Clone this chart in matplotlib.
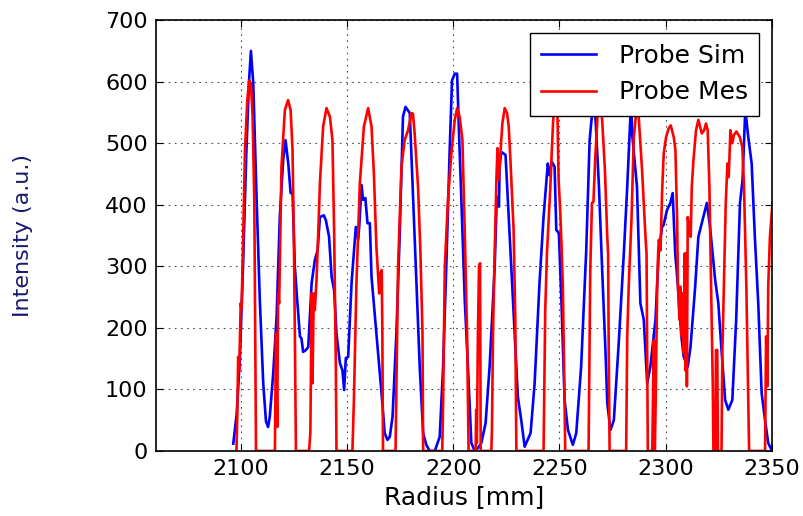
import matplotlib
matplotlib.use('Agg')
import matplotlib.pyplot as plt

# Probe Sim (blue)
sim_r = [2096.4, 2098.0, 2099.5, 2101.0, 2102.5, 2103.8, 2104.7, 2105.8, 2107.4, 2108.9,
         2110.5, 2111.8, 2112.8, 2113.6, 2115.2, 2116.8, 2118.3, 2119.9, 2121.0, 2122.3,
         2123.4, 2124.3, 2125.4, 2126.5, 2127.8, 2128.5, 2129.3, 2130.6, 2131.7, 2133.3,
         2134.8, 2136.1, 2137.2, 2139.0, 2140.0, 2141.5, 2142.7, 2143.9, 2145.0, 2146.6,
         2147.8, 2148.6, 2149.4, 2150.5, 2152.1, 2154.1, 2155.2, 2155.7, 2156.8, 2157.5,
         2158.6, 2159.6, 2160.7, 2161.5, 2163.8, 2166.2, 2167.7, 2169.0, 2170.1, 2171.4,
         2173.2, 2174.8, 2176.3, 2177.5, 2179.5, 2181.1, 2182.6, 2184.2, 2185.8, 2187.3,
         2188.9, 2191.3, 2193.6, 2195.2, 2196.7, 2198.3, 2199.4, 2200.7, 2201.8, 2202.7,
         2203.8, 2205.4, 2206.9, 2208.5, 2210.1, 2211.6, 2213.2, 2215.2, 2217.1, 2219.5,
         2220.5, 2221.5, 2221.8, 2222.6, 2224.6, 2226.5, 2228.1, 2230.4, 2232.0, 2233.6,
         2236.4, 2238.3, 2240.6, 2242.5, 2244.5, 2245.3, 2246.4, 2247.7, 2248.5, 2249.7,
         2250.9, 2252.4, 2254.0, 2256.3, 2257.9, 2260.2, 2262.6, 2264.2, 2265.4, 2266.2,
         2267.0, 2268.6, 2270.1, 2271.7, 2272.5, 2274.0, 2275.6, 2277.9, 2280.3, 2281.9,
         2283.4, 2283.8, 2284.2, 2286.5, 2288.1, 2289.7, 2291.3, 2292.8, 2295.2, 2296.7,
         2298.3, 2299.0, 2300.6, 2302.2, 2303.3, 2304.5, 2305.8, 2307.4, 2308.5, 2310.4,
         2311.7, 2313.9, 2315.4, 2317.0, 2319.4, 2320.9, 2323.3, 2324.8, 2326.4, 2328.0,
         2329.5, 2331.4, 2333.2, 2335.0, 2336.2, 2337.5, 2338.9, 2340.5, 2342.0, 2343.6,
         2345.2, 2346.8, 2348.3, 2349.8]
sim_i = [12, 60, 150, 300, 480, 600, 650, 598, 408, 245,
         110, 48, 39, 56, 126, 218, 380, 473, 505, 467,
         419, 419, 299, 245, 186, 183, 161, 164, 169, 273,
         310, 326, 380, 383, 375, 348, 283, 261, 191, 143,
         131, 99, 151, 153, 273, 364, 343, 364, 432, 408,
         411, 370, 370, 283, 191, 94, 29, 18, 23, 56,
         191, 354, 543, 559, 549, 408, 273, 137, 29, 10,
         0, 0, 23, 137, 299, 489, 602, 613, 613, 516,
         408, 245, 137, 13, 0, 5, 13, 45, 137, 299,
         413, 397, 462, 486, 481, 354, 245, 88, 50, 7,
         29, 110, 273, 380, 467, 448, 470, 462, 359, 354,
         245, 83, 34, 10, 29, 137, 326, 505, 549, 580,
         538, 429, 294, 159, 78, 34, 50, 175, 321, 429,
         543, 575, 516, 429, 240, 213, 110, 137, 213, 321,
         364, 367, 391, 403, 419, 321, 267, 186, 153, 137,
         169, 267, 348, 370, 403, 364, 278, 240, 159, 83,
         67, 83, 213, 403, 440, 555, 510, 467, 348, 240,
         94, 50, 13, 2]

# Probe Mes (red)
mes_r = [2097.9, 2098.3, 2098.7, 2099.2, 2099.9, 2100.3, 2101.1, 2101.9, 2103.0, 2103.9,
         2104.7, 2105.5, 2106.3, 2106.7, 2107.1,
         2116.0, 2116.5, 2117.1, 2117.5, 2118.0, 2119.1, 2120.7, 2122.2, 2123.4, 2124.3,
         2124.9, 2125.4, 2125.9,
         2132.1, 2132.7, 2133.3, 2133.7, 2134.3, 2134.8, 2135.6, 2136.4, 2137.2, 2138.7,
         2140.3, 2141.9, 2143.1, 2143.9, 2144.7, 2145.0,
         2152.5, 2153.2, 2154.4, 2156.0, 2157.9, 2159.9, 2161.5, 2162.6, 2163.8, 2165.1,
         2165.7, 2166.3, 2166.6, 2166.9,
         2172.8, 2174.0, 2175.6, 2177.1, 2178.7, 2180.3, 2181.0, 2181.8, 2183.4, 2184.5,
         2185.5, 2185.8,
         2194.8, 2195.2, 2196.0, 2197.5, 2199.1, 2200.7, 2201.8, 2203.0, 2204.3, 2205.4,
         2206.5, 2207.2,
         2210.5, 2210.8, 2211.1, 2211.6, 2212.1, 2212.6, 2212.9,
         2217.9, 2218.2, 2218.7, 2219.5, 2220.3, 2220.8, 2221.4, 2222.2, 2223.1, 2224.2,
         2225.3, 2226.1, 2226.9, 2228.4, 2229.2, 2229.7,
         2242.5, 2243.3, 2244.1, 2245.7, 2246.4, 2247.2, 2248.0, 2249.0, 2249.6, 2250.4,
         2251.0, 2251.6, 2252.3, 2252.7,
         2263.7, 2264.5, 2265.3, 2266.0, 2266.8, 2268.0, 2269.2, 2270.1, 2271.4, 2272.5,
         2272.9, 2273.2, 2273.6,
         2281.4, 2281.9, 2282.6, 2283.9, 2285.0, 2285.8, 2286.5, 2287.3, 2288.9, 2290.5,
         2291.0, 2291.3, 2291.6,
         2293.7, 2294.1, 2294.4, 2294.9, 2295.3, 2296.0, 2296.5, 2296.8, 2297.6, 2298.3,
         2299.1, 2300.2, 2301.4, 2302.4, 2303.8, 2304.6, 2305.4, 2305.8, 2306.5, 2306.9,
         2307.4, 2308.0, 2308.5, 2309.0, 2309.3, 2309.7, 2310.0, 2310.4, 2311.2, 2311.8,
         2312.3, 2313.1, 2314.3, 2315.4, 2316.2, 2317.0, 2318.1, 2319.0, 2319.8, 2320.6,
         2321.4, 2322.2, 2322.5,
         2323.4, 2323.7, 2324.3, 2324.6,
         2326.3, 2326.7, 2327.4, 2328.3, 2329.1, 2329.7, 2330.5, 2331.4, 2332.1, 2333.3,
         2334.9, 2336.1, 2336.9, 2338.0, 2338.8, 2339.3,
         2346.8, 2347.3, 2347.9, 2348.3, 2349.1, 2350.3]
mes_i = [0, 60, 153, 131, 240, 230, 354, 489, 570, 602,
         597, 543, 408, 191, 0,
         0, 191, 39, 256, 240, 462, 554, 570, 554, 489,
         354, 191, 0,
         0, 30, 256, 110, 256, 229, 278, 354, 435, 527,
         557, 543, 505, 354, 137, 0,
         0, 83, 273, 435, 527, 557, 527, 451, 332, 256,
         289, 294, 191, 0,
         0, 299, 462, 505, 521, 549, 548, 516, 429, 326,
         191, 0,
         0, 78, 299, 408, 484, 538, 557, 543, 505, 354,
         191, 0,
         0, 67, 13, 191, 299, 305, 0,
         0, 34, 191, 326, 440, 492, 440, 484, 532, 557,
         549, 527, 473, 359, 213, 0,
         0, 229, 321, 429, 489, 549, 568, 554, 440, 386,
         330, 267, 105, 0,
         0, 294, 403, 405, 473, 549, 575, 538, 456, 348,
         321, 159, 0,
         0, 186, 267, 375, 510, 538, 565, 543, 456, 348,
         321, 159, 0,
         0, 108, 180, 0, 80, 267, 326, 343, 326, 419,
         484, 510, 524, 529, 510, 489, 375, 267, 213, 267,
         186, 256, 159, 321, 131, 321, 105, 380, 359, 348,
         429, 473, 521, 538, 527, 516, 521, 532, 521, 429,
         267, 105, 0,
         0, 164, 164, 0,
         0, 159, 267, 403, 467, 445, 521, 500, 513, 519,
         510, 494, 429, 267, 105, 0,
         0, 186, 105, 267, 348, 403]

fig = plt.figure(figsize=(8.04, 5.16), dpi=100)
ax = fig.add_axes([0.194, 0.126, 0.766, 0.835])

ax.plot(sim_r, sim_i, color='blue', lw=1.9, label='Probe Sim')
ax.plot(mes_r, mes_i, color='red', lw=1.9, label='Probe Mes')

ax.set_xlim(2060, 2350)
ax.set_ylim(0, 700)
ax.set_xticks([2100, 2150, 2200, 2250, 2300, 2350])
ax.set_yticks(range(0, 701, 100))
ax.tick_params(direction='in', top=True, right=True, labelsize=16, length=5, pad=6)
# sparse dotted grid like the old classic style
ax.grid(True, color='0.3', linestyle=(0, (1.5, 4)), linewidth=0.8)
for s in ax.spines.values():
    s.set_linewidth(1.2)

ax.set_xlabel('Radius [mm]', fontsize=18)
ax.set_ylabel('Intensity (a.u.)', fontsize=16, color='#191970')
ax.yaxis.set_label_coords(-0.2, 0.5)

leg = ax.legend(loc='upper right', fontsize=18, fancybox=False, framealpha=1,
                edgecolor='k', handlelength=2.2, borderpad=0.45, labelspacing=0.5,
                handletextpad=0.9, borderaxespad=0.5)
leg.get_frame().set_linewidth(1.0)

fig.savefig('out.png', dpi=100)
